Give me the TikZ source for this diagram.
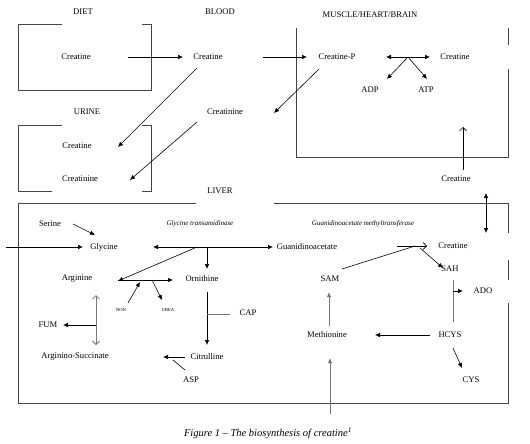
\documentclass[tikz,border=0pt]{standalone}
\usepackage{fontspec}
\setmainfont{Liberation Serif}
\usetikzlibrary{arrows.meta,calc}
\definecolor{wallc}{HTML}{444444}
\definecolor{greyc}{HTML}{777777}

\begin{document}
\begin{tikzpicture}[x=1pt,y=-1pt,font=\fontsize{8.6}{10}\selectfont,
lbl/.style={inner sep=1pt},enz/.style={lbl,font=\fontsize{7}{8}\selectfont\itshape},
tiny/.style={lbl,font=\fontsize{4.6}{5}\selectfont},
wall/.style={draw=wallc,line width=.6pt},
arr/.style={-{Latex[length=5pt,width=4.5pt]},line width=.6pt},
darr/.style={{Latex[length=5pt,width=4.5pt]}-{Latex[length=5pt,width=4.5pt]},line width=.6pt},
oarr/.style={-{Straight Barb[length=3.5pt,width=7pt]},line width=.6pt},
odarr/.style={{Straight Barb[length=3.5pt,width=7pt]}-{Straight Barb[length=3.5pt,width=7pt]},line width=.8pt,draw=greyc},
garr/.style={arr,draw=greyc,line width=.8pt}]
\useasboundingbox (0,0) rectangle (530,444);
% compartments
\draw[wall](62,24)--(18,24)--(18,90)--(151,90)--(151,24)--(142,24);
\draw[wall](62,125)--(18,125)--(18,191)--(52,191);\draw[wall](142,191)--(151,191)--(151,125)--(142,125);
\draw[wall](296,28)--(296,157)--(508,157)--(508,69);\draw[wall](508,28)--(508,45);
\draw[wall](196,203)--(18,203)--(18,403)--(508,403)--(508,303);\draw[wall](508,280)--(508,260);
\draw[wall](508,233)--(508,203)--(274,203);
% headings
\node[lbl](diet)at(83,12){DIET};\node[lbl](blood)at(220,12){BLOOD};
\node[lbl](mhb)at(370,15){MUSCLE/HEART/BRAIN};\node[lbl](urine)at(87,112){URINE};
\node[lbl](liver)at(220,191){LIVER};
% diet, blood, urine, muscle
\node[lbl](dc)at(76,57){Creatine};\node[lbl](bc)at(208,57){Creatine};
\node[lbl](bcn)at(225,112){Creatinine};\node[lbl](uc)at(77,146){Creatine};
\node[lbl](ucn)at(80,179){Creatinine};\node[lbl](cp)at(337,57){Creatine-P};
\node[lbl](mc)at(455,57){Creatine};\node[lbl](adp)at(370,90){ADP};\node[lbl](atp)at(426,90){ATP};
\node[lbl](oc)at(456,179){Creatine};
\coordinate(j1)at(408,57);\coordinate(mi)at(463,127);
\draw[arr]($(dc)+(52,0)$)--($(bc)+(-25,0)$);\draw[arr]($(bc)+(55,0)$)--($(cp)+(-30,0)$);
\draw[arr]($(bc)+(-11,11)$)--($(uc)+(41,1)$);\draw[arr]($(bcn)+(-28,10)$)--($(ucn)+(50,1)$);
\draw[arr]($(cp)+(-18,12)$)--($(bcn)+(49,1)$);
\draw[darr]($(cp)+(49,0)$)--($(mc)+(-25,0)$);
\draw[arr](j1)--($(adp)+(17,-11)$);\draw[arr](j1)--($(atp)+(1,-11)$);
\draw[oarr]($(oc)+(7,-9)$)--(mi);
% liver
\node[enz](gt)at(200,224){Glycine transamidinase};
\node[enz](gm)at(363,224){Guanidinoacetate methyltransferase};
\node[lbl](ser)at(50,224){Serine};\node[lbl](gly)at(104,247){Glycine};
\node[lbl](gaa)at(307,247){Guanidinoacetate};\node[lbl](lc)at(453,246){Creatine};
\node[lbl](arg)at(77,279){Arginine};\node[lbl](orn)at(202,279){Ornithine};
\node[tiny](non)at(121,310){NON};\node[tiny](urea)at(168,310){UREA};
\node[lbl](sam)at(330,279){SAM};\node[lbl](sah)at(450,269){SAH};\node[lbl](ado)at(483,291){ADO};
\node[lbl](fum)at(48,325){FUM};\node[lbl](cap)at(248,313){CAP};
\node[lbl](met)at(327,335){Methionine};\node[lbl](hcys)at(450,335){HCYS};
\node[lbl](as)at(75,357){Arginino-Succinate};\node[lbl](cit)at(207,357){Citrulline};
\node[lbl](asp)at(191,380){ASP};\node[lbl](cys)at(471,380){CYS};
\coordinate(gin)at(6,247);\coordinate(j2)at(197,247);\coordinate(j3)at(207,247);
\coordinate(j4)at(96,325);\coordinate(j5)at(207,314);\coordinate(j7)at(453,291);
\coordinate(min)at(330,414);
\draw[arr](gin)--($(gly)+(-21,0)$);\draw[arr]($(ser)+(23,0)$)--($(gly)+(-9,-12)$);
\draw[darr]($(gly)+(49,0)$)--($(gaa)+(-34,0)$);
\draw[arr](j2)--($(arg)+(41,2)$);\draw[arr](j3)--($(orn)+(5,-10)$);
\draw[arr]($(arg)+(41,1)$)--($(orn)+(-29,1)$);
\draw[arr]($(non)+(7,-7)$)--($(arg)+(63,3)$);\draw[arr]($(arg)+(75,1)$)--($(urea)+(-6,-10)$);
\draw[odarr]($(arg)+(19,16)$)--($(as)+(21,-12)$);
\draw[arr](j4)--($(fum)+(15,0)$);
\draw[arr]($(orn)+(5,13)$)--($(cit)+(0,-12)$);\draw[draw=greyc,line width=.6pt]($(cap)+(-18,1)$)--(j5);
\draw[arr]($(cit)+(-22,0)$)--($(as)+(88,0)$);\draw[line width=.6pt]($(asp)+(-6,-10)$)--($(cit)+(-34,3)$);
\draw[oarr]($(gaa)+(90,-1)$)--($(lc)+(-26,0)$);\draw[line width=.6pt]($(sam)+(12,-10)$)--($(lc)+(-38,0)$);
\draw[arr]($(lc)+(-33,2)$)--($(sah)+(-7,-1)$);
\draw[draw=greyc,line width=.6pt]($(sah)+(3,11)$)--($(hcys)+(3,-13)$);\draw[arr](j7)--($(ado)+(-20,0)$);
\draw[arr]($(hcys)+(-20,0)$)--($(met)+(48,0)$);
\draw[garr]($(met)+(2,-9)$)--($(sam)+(-1,13)$);\draw[garr](min)--($(met)+(3,23)$);
\draw[arr]($(hcys)+(3,13)$)--($(cys)+(-9,-12)$);
\draw[darr]($(oc)+(30,14)$)--($(lc)+(33,-13)$);
% caption
\node[lbl,font=\fontsize{10.5}{12}\selectfont\itshape](fig)at(268,433){Figure 1 -- The biosynthesis of creatine\textsuperscript{1}};
\end{tikzpicture}
\end{document}
